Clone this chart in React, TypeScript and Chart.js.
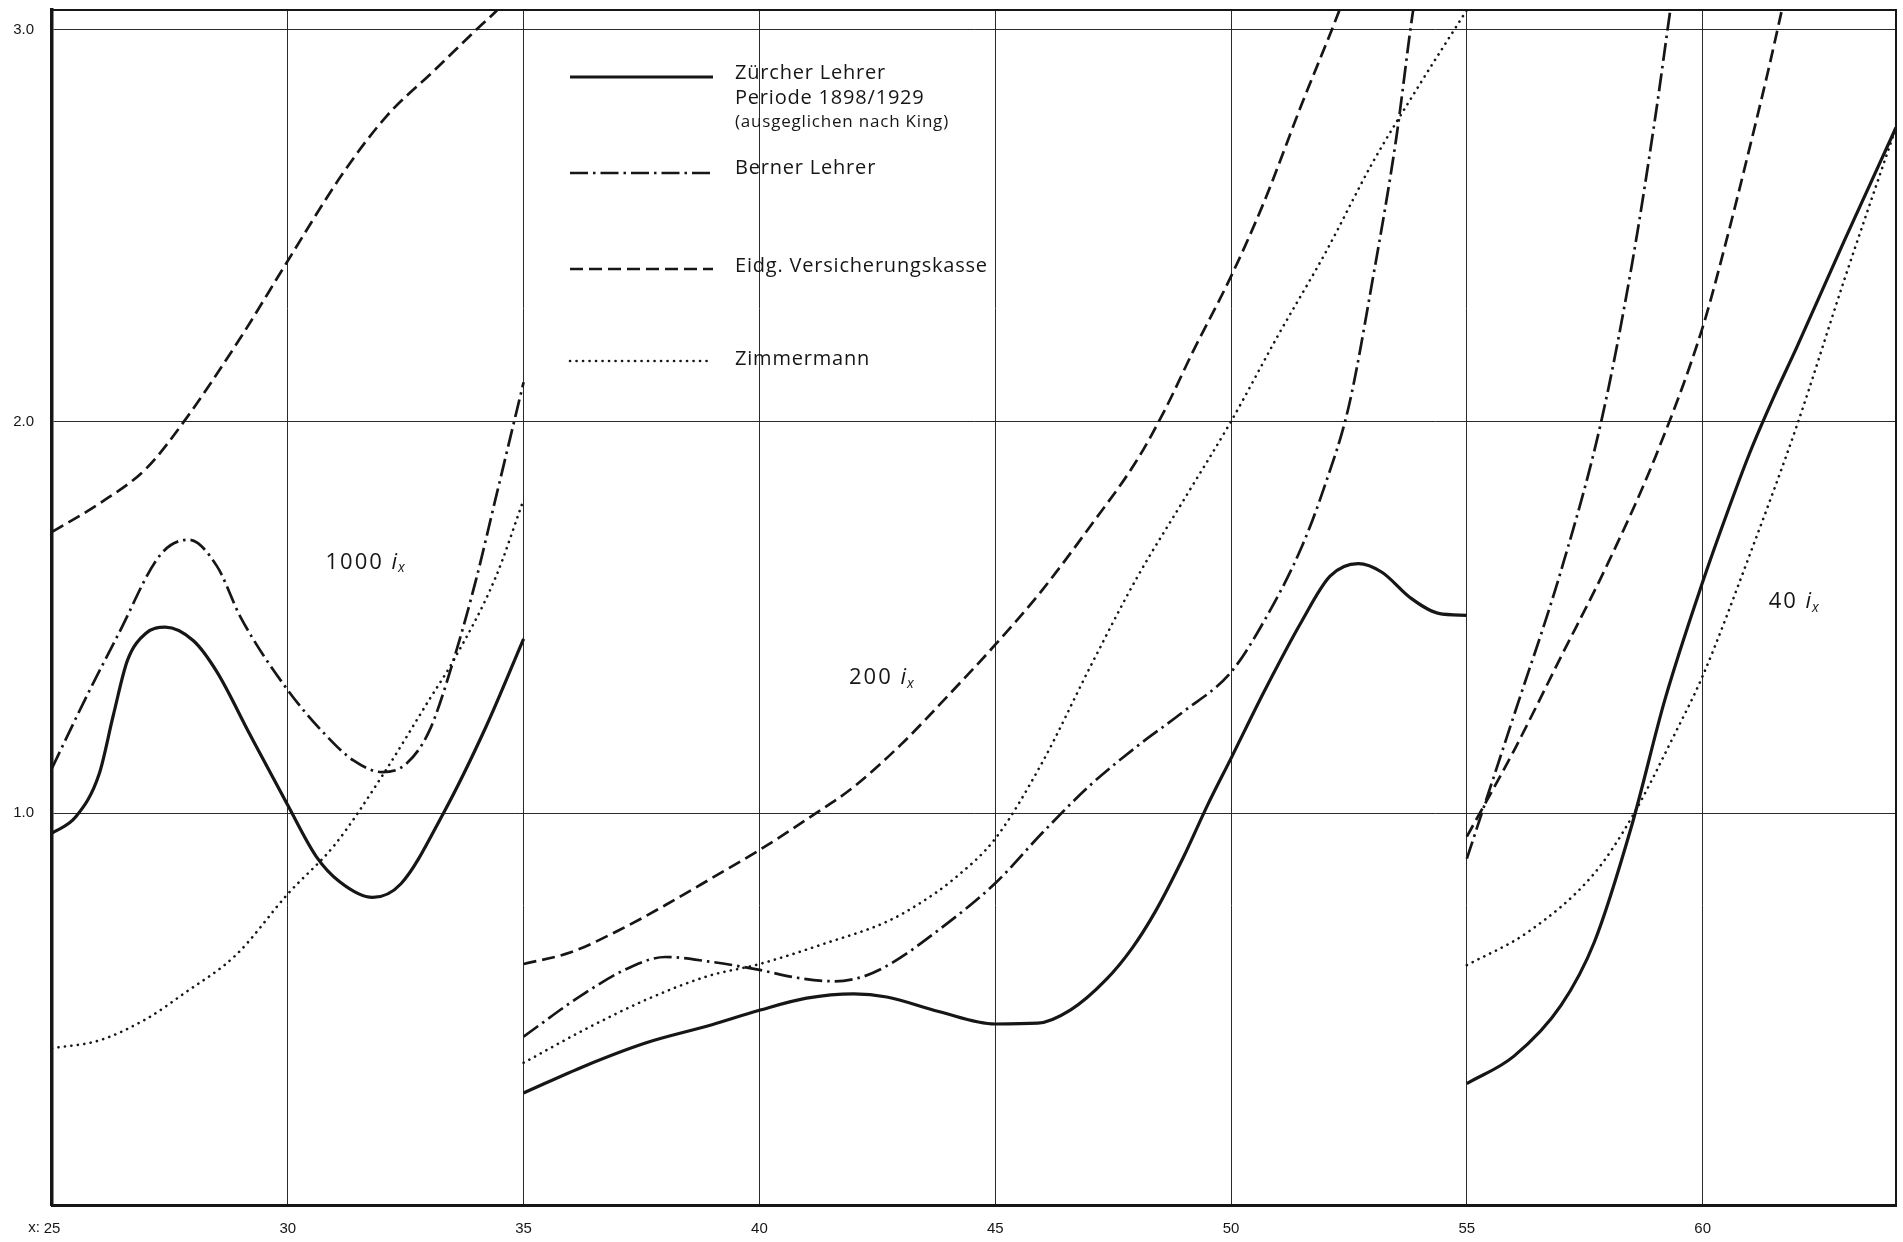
import React, { useEffect, useRef } from 'react';
import { Chart, registerables } from 'chart.js';

Chart.register(...registerables);

// ---------- axis ticks ----------
const AGE_TICKS = [25, 30, 35, 40, 45, 50, 55, 60];
const VALUE_TICKS = [1, 2, 3];

// ---------- Zürcher Lehrer, Periode 1898/1929 (solid) ----------
const zuercherAges1 = [25, 25.5, 26.0, 26.3, 26.6, 27.0, 27.4, 28.0, 28.5, 29.2, 30.0, 30.6, 31.1, 31.8, 32.4, 33.3, 34.2, 35.0];
const zuercherVals1 = [0.949, 0.99, 1.1, 1.25, 1.39, 1.46, 1.475, 1.44, 1.36, 1.2, 1.02, 0.89, 0.825, 0.785, 0.82, 1.0, 1.22, 1.445];
const zuercherAges2 = [35, 36.3, 37.6, 38.9, 40.0, 41.0, 42.0, 42.7, 43.8, 45.0, 45.9, 46.6, 47.35, 47.9, 48.4, 49.0, 49.5, 50.0, 50.7, 51.5, 52.1, 52.7, 53.2, 53.8, 54.4, 55.0];
const zuercherVals2 = [0.286, 0.355, 0.414, 0.457, 0.497, 0.528, 0.539, 0.531, 0.494, 0.462, 0.464, 0.498, 0.575, 0.655, 0.75, 0.89, 1.02, 1.14, 1.31, 1.49, 1.605, 1.637, 1.615, 1.55, 1.51, 1.505];
const zuercherAges3 = [55, 56, 57, 57.7, 58.5, 59.2, 60.0, 60.5, 61.0, 61.5, 62.0, 63.0, 64.1];
const zuercherVals3 = [0.31, 0.38, 0.51, 0.67, 0.97, 1.29, 1.59, 1.76, 1.92, 2.06, 2.19, 2.46, 2.75];

// ---------- Berner Lehrer (dash-dot) ----------
const bernerAges1 = [25, 25.7, 26.4, 27.3, 27.9, 28.5, 29.0, 30.0, 30.8, 31.4, 32.0, 32.5, 33.0, 33.5, 34.0, 34.4, 34.8, 35.0];
const bernerVals1 = [1.115, 1.29, 1.455, 1.66, 1.698, 1.63, 1.5, 1.314, 1.2, 1.134, 1.105, 1.125, 1.21, 1.385, 1.6, 1.8, 2.0, 2.1];
const bernerAges2 = [35, 36.3, 37.3, 38.0, 38.9, 40.0, 40.8, 41.6, 42.2, 42.8, 43.8, 45.0, 46.0, 47.0, 48.0, 49.0, 50.0, 50.7, 51.5, 52.0, 52.5, 53.0, 53.5, 53.85, 54.1];
const bernerVals2 = [0.43, 0.541, 0.609, 0.633, 0.622, 0.6, 0.58, 0.571, 0.583, 0.617, 0.702, 0.821, 0.95, 1.07, 1.17, 1.26, 1.36, 1.49, 1.68, 1.84, 2.04, 2.36, 2.72, 3.04, 3.22];
const bernerAges3 = [55, 56, 57, 57.85, 58.5, 59.0, 59.35, 59.5];
const bernerVals3 = [0.884, 1.25, 1.62, 2.0, 2.4, 2.78, 3.08, 3.2];

// ---------- Eidg. Versicherungskasse (dashed) ----------
const eidgAges1 = [25, 26, 27, 27.8, 29.0, 30.0, 31.15, 32.1, 33.1, 34.0, 34.4, 35.0];
const eidgVals1 = [1.718, 1.79, 1.88, 2.0, 2.214, 2.41, 2.63, 2.78, 2.895, 3.0, 3.045, 3.12];
const eidgAges2 = [35, 36, 37, 38, 39, 40, 41.2, 42.0, 43.0, 44.0, 45.0, 46.0, 47.0, 48.0, 48.6, 49.2, 50.0, 50.7, 51.5, 52.3, 52.6];
const eidgVals2 = [0.615, 0.645, 0.7, 0.765, 0.835, 0.906, 1.0, 1.067, 1.175, 1.3, 1.43, 1.57, 1.73, 1.9, 2.03, 2.18, 2.37, 2.56, 2.81, 3.05, 3.15];
const eidgAges3 = [55, 56, 57, 58, 59, 60, 60.5, 61, 61.4, 61.7, 61.9];
const eidgVals3 = [0.94, 1.16, 1.4, 1.64, 1.91, 2.24, 2.46, 2.7, 2.9, 3.06, 3.16];

// ---------- Zimmermann (dotted) ----------
const zimmerAges1 = [25, 26, 27, 27.8, 28.9, 30.0, 31.0, 32.0, 33.0, 33.5, 34.4, 35.0];
const zimmerVals1 = [0.4, 0.42, 0.475, 0.54, 0.638, 0.794, 0.92, 1.095, 1.29, 1.387, 1.6, 1.8];
const zimmerAges2 = [35, 36.3, 37.6, 38.9, 40.0, 41.4, 42.7, 43.4, 44.1, 45.0, 46.0, 47.0, 48.0, 49.0, 50.0, 51.0, 52.0, 53.0, 54.0, 55.0];
const zimmerVals2 = [0.363, 0.448, 0.524, 0.584, 0.615, 0.668, 0.723, 0.77, 0.83, 0.935, 1.13, 1.37, 1.6, 1.8, 2.0, 2.22, 2.43, 2.66, 2.86, 3.05];
const zimmerAges3 = [55, 56.3, 57.7, 58.5, 59.4, 60.0, 61.0, 62.0, 63.0, 64.1];
const zimmerVals3 = [0.612, 0.697, 0.846, 0.99, 1.2, 1.35, 1.66, 1.99, 2.36, 2.75];

const INK = '#161616';

const STYLES = {
  solid: { width: 3.2, dash: [] as number[], cap: 'butt' as CanvasLineCap },
  dashDot: { width: 2.7, dash: [18, 5, 2.5, 5], cap: 'butt' as CanvasLineCap },
  dashed: { width: 2.7, dash: [13, 6], cap: 'butt' as CanvasLineCap },
  dotted: { width: 2.6, dash: [0.1, 6.4], cap: 'round' as CanvasLineCap },
};

function seg(ages: number[], vals: number[], style: { width: number; dash: number[]; cap: CanvasLineCap }) {
  return {
    data: ages.map((a, i) => ({ x: a, y: vals[i] })),
    borderColor: INK,
    borderWidth: style.width,
    borderDash: style.dash,
    borderCapStyle: style.cap,
    pointRadius: 0,
    pointHoverRadius: 0,
    fill: false,
    cubicInterpolationMode: 'monotone' as const,
  };
}

function setSpacing(ctx: any, px: number) {
  if ('letterSpacing' in ctx) ctx.letterSpacing = px + 'px';
}

function drawScaledLabel(ctx: CanvasRenderingContext2D, x: number, y: number, num: string) {
  ctx.textBaseline = 'middle';
  ctx.textAlign = 'left';
  setSpacing(ctx, 2);
  ctx.font = '22px "Open Sans"';
  ctx.fillText(num + ' ', x, y);
  let w = ctx.measureText(num + ' ').width;
  setSpacing(ctx, 0);
  ctx.font = 'italic 22px "Open Sans"';
  ctx.fillText('i', x + w, y);
  w += ctx.measureText('i').width + 1;
  ctx.font = 'italic 14px "Open Sans"';
  ctx.fillText('x', x + w, y + 6);
}

const decorPlugin = {
  id: 'decor',
  afterDraw(chart: any) {
    const { ctx, chartArea: a, scales } = chart;
    const xs = scales.x;
    const ys = scales.y;
    ctx.save();
    // top and right frame
    ctx.strokeStyle = INK;
    ctx.lineWidth = 2;
    ctx.setLineDash([]);
    ctx.beginPath();
    ctx.moveTo(a.left, a.top);
    ctx.lineTo(a.right, a.top);
    ctx.lineTo(a.right, a.bottom);
    ctx.stroke();

    // "x:" prefix of the first age label
    ctx.fillStyle = INK;
    ctx.font = '15px "Liberation Sans"';
    ctx.textAlign = 'right';
    ctx.textBaseline = 'middle';
    ctx.fillText('x:', xs.getPixelForValue(25) - 12, a.bottom + 23);

    // scale annotations
    drawScaledLabel(ctx, xs.getPixelForValue(30.8), ys.getPixelForValue(1.64), '1000');
    drawScaledLabel(ctx, xs.getPixelForValue(41.9), ys.getPixelForValue(1.345), '200');
    drawScaledLabel(ctx, xs.getPixelForValue(61.4), ys.getPixelForValue(1.54), '40');

    // legend
    const lx0 = a.left + 518;
    const lx1 = a.left + 661;
    const tx = a.left + 683;
    const samples: [keyof typeof STYLES, number][] = [
      ['solid', 77],
      ['dashDot', 173],
      ['dashed', 269],
      ['dotted', 361],
    ];
    samples.forEach(([k, y]) => {
      const s = STYLES[k];
      ctx.lineWidth = s.width;
      ctx.setLineDash(s.dash);
      ctx.lineCap = s.cap;
      ctx.beginPath();
      ctx.moveTo(lx0, y);
      ctx.lineTo(lx1, y);
      ctx.stroke();
    });
    ctx.setLineDash([]);
    ctx.lineCap = 'butt';
    ctx.textAlign = 'left';
    ctx.textBaseline = 'middle';
    setSpacing(ctx, 0.8);
    ctx.font = '20px "Open Sans"';
    ctx.fillText('Zürcher Lehrer', tx, 73.5);
    ctx.fillText('Periode 1898/1929', tx, 98.5);
    ctx.font = '17px "Open Sans"';
    ctx.fillText('(ausgeglichen nach King)', tx, 122.5);
    ctx.font = '20px "Open Sans"';
    ctx.fillText('Berner Lehrer', tx, 168.5);
    ctx.fillText('Eidg. Versicherungskasse', tx, 266);
    ctx.fillText('Zimmermann', tx, 359.5);
    setSpacing(ctx, 0);
    ctx.restore();
  },
};

export default function App() {
  const ref = useRef<HTMLCanvasElement | null>(null);

  useEffect(() => {
    if (!ref.current) return;
    const datasets = [
      seg(zuercherAges1, zuercherVals1, STYLES.solid),
      seg(zuercherAges2, zuercherVals2, STYLES.solid),
      seg(zuercherAges3, zuercherVals3, STYLES.solid),
      seg(bernerAges1, bernerVals1, STYLES.dashDot),
      seg(bernerAges2, bernerVals2, STYLES.dashDot),
      seg(bernerAges3, bernerVals3, STYLES.dashDot),
      seg(eidgAges1, eidgVals1, STYLES.dashed),
      seg(eidgAges2, eidgVals2, STYLES.dashed),
      seg(eidgAges3, eidgVals3, STYLES.dashed),
      seg(zimmerAges1, zimmerVals1, STYLES.dotted),
      seg(zimmerAges2, zimmerVals2, STYLES.dotted),
      seg(zimmerAges3, zimmerVals3, STYLES.dotted),
    ];
    const chart = new Chart(ref.current, {
      type: 'line',
      data: { datasets },
      plugins: [decorPlugin],
      options: {
        animation: false,
        responsive: false,
        devicePixelRatio: 1,
        layout: { padding: { top: 10, right: 7, left: 0, bottom: 0 } },
        plugins: { legend: { display: false }, tooltip: { enabled: false } },
        scales: {
          x: {
            type: 'linear',
            min: 25,
            max: 64.1,
            afterBuildTicks: (s: any) => {
              s.ticks = AGE_TICKS.map((v) => ({ value: v }));
            },
            afterFit: (s: any) => {
              s.height = 37;
              s.paddingLeft = 0;
              s.paddingRight = 0;
            },
            ticks: {
              autoSkip: false,
              maxRotation: 0,
              padding: 15,
              color: INK,
              font: { family: 'Liberation Sans', size: 15 },
              callback: (v: any) => String(v),
            },
            grid: { color: '#2a2a2a', lineWidth: 1, drawTicks: false },
            border: { color: INK, width: 3 },
          },
          y: {
            type: 'linear',
            min: 0,
            max: 3.05,
            afterBuildTicks: (s: any) => {
              s.ticks = VALUE_TICKS.map((v) => ({ value: v }));
            },
            afterFit: (s: any) => {
              s.width = 52;
              s.paddingTop = 0;
              s.paddingBottom = 0;
            },
            ticks: {
              padding: 18,
              color: INK,
              font: { family: 'Liberation Sans', size: 15 },
              callback: (v: any) => Number(v).toFixed(1),
            },
            grid: { color: '#2a2a2a', lineWidth: 1, drawTicks: false },
            border: { color: INK, width: 3.5 },
          },
        },
      },
    });
    return () => chart.destroy();
  }, []);

  return (
    <div style={{ position: 'absolute', left: 0, top: 0, width: 1903, height: 1242, background: '#fff' }}>
      <canvas ref={ref} width={1903} height={1242} style={{ display: 'block' }} />
    </div>
  );
}
